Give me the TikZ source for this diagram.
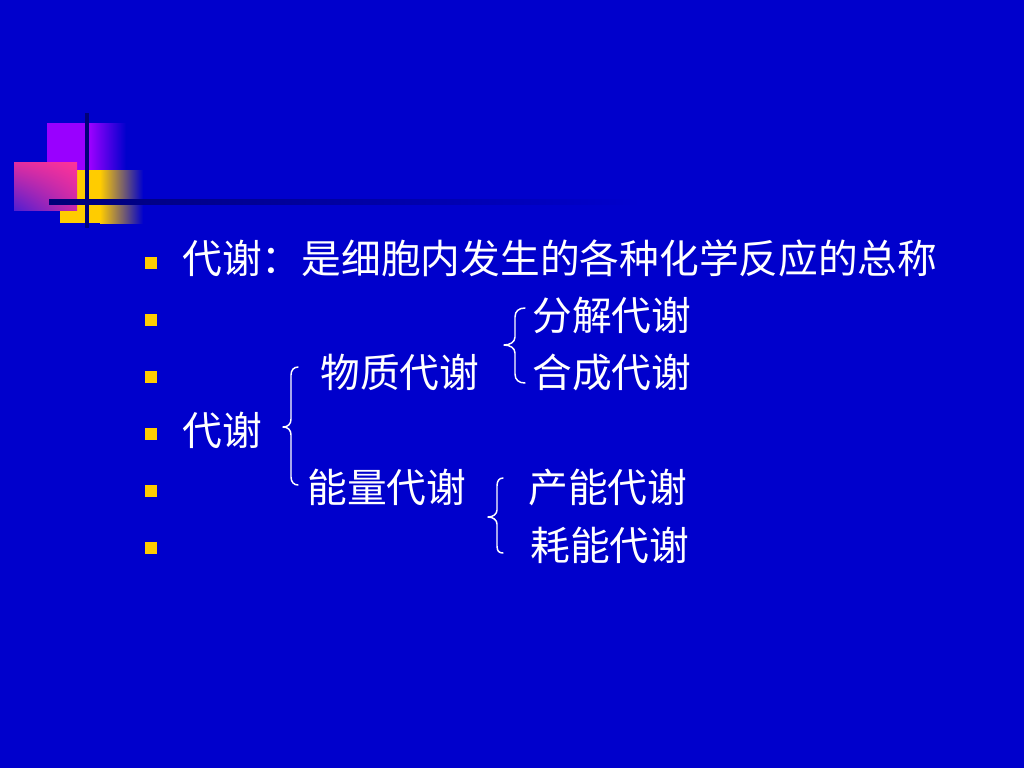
\documentclass[tikz,border=0pt]{standalone}
\usepackage{fontspec}
\setmainfont{Noto Sans CJK SC}
\usetikzlibrary{shadings}
\definecolor{slideblue}{RGB}{0,0,204}
\definecolor{bulletgold}{RGB}{255,204,0}
\definecolor{decopurple}{RGB}{153,0,255}
\definecolor{decopink}{RGB}{255,51,153}
\definecolor{decoyellow}{RGB}{255,204,0}
\definecolor{decoline}{RGB}{0,0,120}
\definecolor{pinkleft}{RGB}{225,45,160}
\definecolor{pinklowleft}{RGB}{80,30,210}
\definecolor{pinklowright}{RGB}{200,40,170}
\tikzset{every picture/.style={line width=0.75pt}}
\tikzset{
  txt/.style={anchor=west, inner sep=0pt, text=white, font=\fontsize{29.8}{34}\selectfont},
  bullet/.style={fill=bulletgold, draw=none, minimum size=9pt, inner sep=0pt},
  brace/.style={draw=white, line width=1.1pt, line cap=round, line join=round}
}

\begin{document}
\begin{tikzpicture}[x=0.75pt,y=0.75pt,yscale=-1,xscale=1]
%Shape: Background
\fill [slideblue] (0,0) rectangle (1024,768);
\useasboundingbox (0,0) rectangle (1024,768);

%Shape: Rectangle purple
\fill [decopurple] (47,123) rectangle (90,170);
\shade [left color=decopurple, right color=slideblue] (90,123) rectangle (126,170);
%Shape: Rectangle yellow
\fill [decoyellow] (60,170) rectangle (100,223);
\shade [left color=decoyellow, right color=slideblue] (100,170) rectangle (143,223);
%Shape: Rectangle pink
\shade [upper right=decopink, upper left=pinkleft, lower left=pinklowleft, lower right=pinklowright] (14,162) rectangle (77,210);
%Straight Lines vertical
\draw [decoline, line width=3pt] (87,113) -- (87,228);
%Straight Lines horizontal
\shade [left color=decoline, right color=slideblue] (49,199) rectangle (640,204);

%Bullets
\foreach \k/\y in {1/263,2/320,3/377,4/434,5/491,6/548}
  \node [bullet] (b\k) at (151,\y) {};

% Text Node
\draw (182,258) node [txt] (defn) {代谢：是细胞内发生的各种化学反应的总称};
% Text Node
\draw (182,430) node [txt] (root) {代谢};
% Text Node
\draw (320,372) node [txt] (matter) {物质代谢};
% Text Node
\draw (307,487) node [txt] (energy) {能量代谢};
% Text Node
\draw (532,315) node [txt] (decomp) {分解代谢};
% Text Node
\draw (532,372) node [txt] (synth) {合成代谢};
% Text Node
\draw (528,487) node [txt] (produce) {产能代谢};
% Text Node
\draw (530,545) node [txt] (consume) {耗能代谢};

%Brace big
\draw [brace] (298,367) .. controls (294,367) and (291,370) .. (291,375) -- (291,419) .. controls (291,424) and (288,427) .. (283,427) .. controls (288,427) and (291,430) .. (291,435) -- (291,477) .. controls (291,482) and (294,485) .. (298,485) ;
%Brace matter
\draw [brace] (525,308) .. controls (519,308) and (515,311) .. (515,317) -- (515,337) .. controls (515,342) and (510,345) .. (504,345) .. controls (510,345) and (515,348) .. (515,353) -- (515,374) .. controls (515,380) and (519,383) .. (525,383) ;
%Brace energy
\draw [brace] (503,478) .. controls (499,478) and (497,481) .. (497,486) -- (497,510) .. controls (497,514) and (493,517) .. (488,517) .. controls (493,517) and (497,520) .. (497,524) -- (497,546) .. controls (497,551) and (499,553) .. (503,553) ;

\end{tikzpicture}
\end{document}
